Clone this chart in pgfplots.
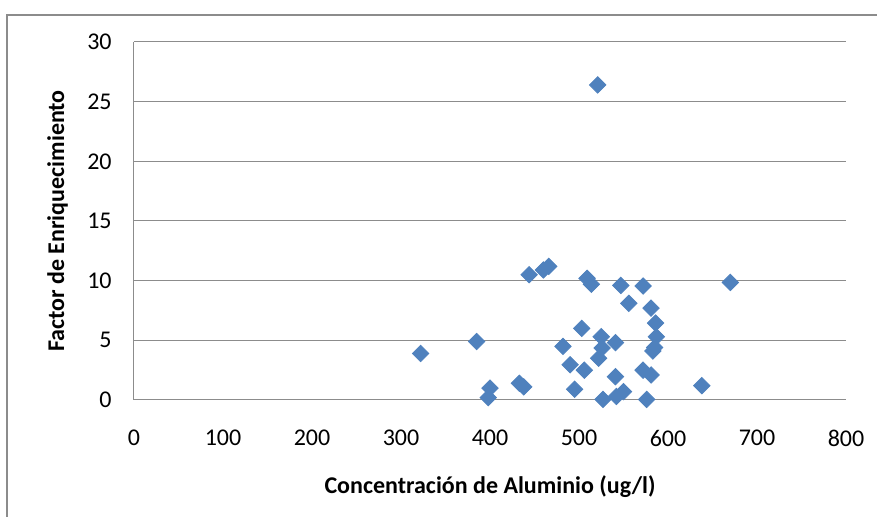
\documentclass[border=0pt]{standalone}
\usepackage{fontspec}
\setmainfont{Carlito}
\usepackage{pgfplots}
\pgfplotsset{compat=1.18}
\definecolor{markblue}{HTML}{4F81BD}
\definecolor{gridgray}{HTML}{8C8C8C}

\pgfplotstableread{
x y
322 3.9
385 4.9
398 0.2
400 1.0
433 1.4
438 1.1
444 10.5
460 10.9
466 11.2
482 4.5
490 2.95
495 0.9
503 6.0
506 2.5
509 10.2
514 9.7
521 26.4
522 3.5
525 5.3
526 4.35
527 0.05
541 4.8
541 1.95
542 0.3
547 9.6
550 0.7
556 8.1
572 9.55
572 2.5
576 0.05
581 2.1
581 7.7
583 4.1
585 4.4
586 6.45
587 5.3
638 1.2
670 9.85
}\datatable

\begin{document}
\begin{tikzpicture}
\useasboundingbox (-67pt,-58.5pt) rectangle (371.5pt,200pt);
% chart area frame
\draw[gridgray, line width=1pt] (-63.25pt,-80pt) -- (-63.25pt,192.25pt) -- (400pt,192.25pt);
\begin{axis}[
    at={(0,0)}, anchor=south west,
    scale only axis,
    width=356pt, height=179pt,
    xmin=0, xmax=800, ymin=0, ymax=30,
    xtick={0,100,...,800},
    ytick={0,5,...,30},
    axis x line*=bottom,
    axis y line*=left,
    x axis line style={draw=none},
    y axis line style={gridgray, line width=0.5pt, -},
    ymajorgrids,
    major grid style={gridgray, line width=0.5pt},
    major tick length=0pt,
    tick label style={font=\fontsize{12}{14}\selectfont, black},
    /pgf/number format/assume math mode=true,
    yticklabel style={anchor=east, inner sep=0pt, xshift=-11pt},
    xticklabel style={anchor=north, inner sep=0pt, yshift=-15pt},
    xlabel={Concentración de Aluminio (ug/l)},
    ylabel={Factor de Enriquecimiento},
    label style={font=\fontsize{12}{14}\selectfont\bfseries},
    xlabel style={at={(axis description cs:0.5,0)}, anchor=center, yshift=-43.5pt},
    ylabel style={at={(axis description cs:0,0.5)}, anchor=center, yshift=38.25pt},
    clip=false,
]
\addplot[only marks, mark=square*, mark size=2.9pt,
    mark options={rotate=45, fill=markblue, draw=markblue}]
    table[x=x, y=y] {\datatable};
\end{axis}
\end{tikzpicture}
\end{document}
